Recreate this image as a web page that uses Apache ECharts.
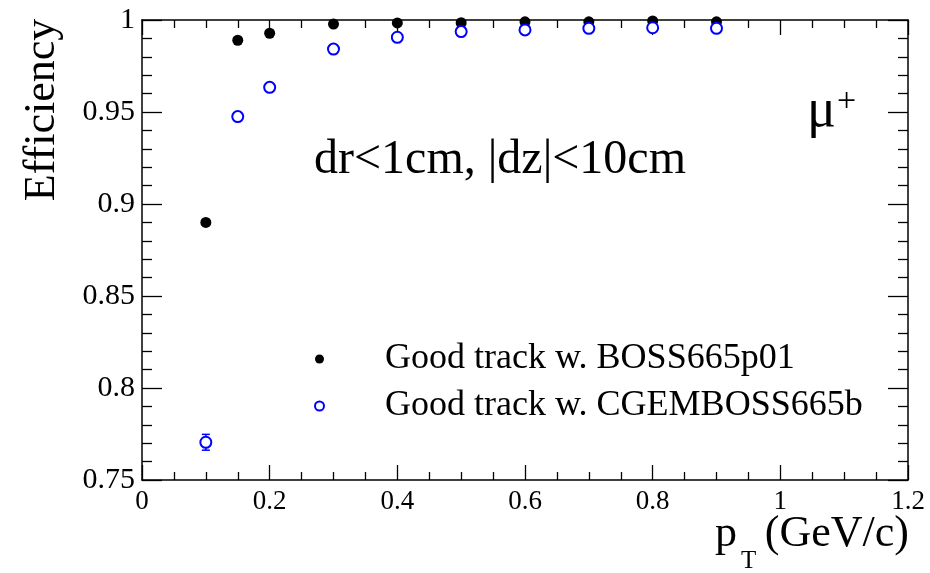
<!DOCTYPE html>
<html>
<head>
<meta charset="utf-8">
<script src="https://cdn.jsdelivr.net/npm/echarts@6/dist/echarts.min.js"></script>
<style>html,body{margin:0;padding:0;background:#fff}#c{width:930px;height:573px}</style>
</head>
<body>
<div id="c"></div>
<script>
// Data
const ptValues = [0.1, 0.15, 0.2, 0.3, 0.4, 0.5, 0.6, 0.7, 0.8, 0.9];
const effBOSS = [0.890, 0.989, 0.9928, 0.9978, 0.9984, 0.9985, 0.999, 0.999, 0.9995, 0.999];
const errBOSS = [0.0015, 0.0008, 0.0006, 0.0004, 0.0003, 0.0003, 0.0003, 0.0003, 0.0003, 0.0003];
const effCGEM = [0.7705, 0.9475, 0.9634, 0.9842, 0.9906, 0.9937, 0.9946, 0.9955, 0.9958, 0.9955];
const errCGEM = [0.0043, 0.0020, 0.0018, 0.0012, 0.0010, 0.0009, 0.0008, 0.0008, 0.0008, 0.0008];
const seriesNames = ['Good track w. BOSS665p01', 'Good track w. CGEMBOSS665b'];
const xTicks = [0, 0.2, 0.4, 0.6, 0.8, 1, 1.2];
const yTicks = [0.75, 0.8, 0.85, 0.9, 0.95, 1];

const FONT = 'Liberation Serif';
const chart = echarts.init(document.getElementById('c'), null, {renderer: 'canvas'});

function pts(xs, ys) { return xs.map((x, i) => [x, ys[i]]); }
function errPts(xs, ys, es) { return xs.map((x, i) => [x, ys[i] - es[i], ys[i] + es[i]]); }

function errRender(color, cap) {
  return function (params, api) {
    const x = api.value(0);
    const lo = api.coord([x, api.value(1)]);
    const hi = api.coord([x, api.value(2)]);
    return {
      type: 'group',
      children: [
        {type: 'line', shape: {x1: lo[0], y1: lo[1], x2: hi[0], y2: hi[1]}, style: {stroke: color, lineWidth: 1.5}},
        {type: 'line', shape: {x1: lo[0] - cap, y1: lo[1], x2: lo[0] + cap, y2: lo[1]}, style: {stroke: color, lineWidth: 1.5}},
        {type: 'line', shape: {x1: hi[0] - cap, y1: hi[1], x2: hi[0] + cap, y2: hi[1]}, style: {stroke: color, lineWidth: 1.5}}
      ]
    };
  };
}

const fmt = v => String(parseFloat(v.toFixed(3)));

const axisLine = {show: true, onZero: false, lineStyle: {color: '#000', width: 1.5}};
const tickStyle = {color: '#000', width: 1.3};

const option = {
  animation: false,
  backgroundColor: '#fff',
  grid: {left: 142, top: 20, right: 22, bottom: 93, containLabel: false},
  xAxis: [
    {
      type: 'value', min: xTicks[0], max: xTicks[xTicks.length - 1], interval: 0.2,
      position: 'bottom',
      axisLine: axisLine,
      axisTick: {show: true, inside: true, length: 15, lineStyle: tickStyle},
      minorTick: {show: true, splitNumber: 4, length: 8, lineStyle: tickStyle},
      splitLine: {show: false}, minorSplitLine: {show: false},
      axisLabel: {show: true, margin: 8, color: '#000', fontFamily: FONT, fontSize: 27, formatter: fmt}
    },
    {
      type: 'value', min: xTicks[0], max: xTicks[xTicks.length - 1], interval: 0.2,
      position: 'top',
      axisLine: axisLine,
      axisTick: {show: true, inside: true, length: 15, lineStyle: tickStyle},
      minorTick: {show: true, splitNumber: 4, length: 8, lineStyle: tickStyle},
      splitLine: {show: false}, axisLabel: {show: false}
    }
  ],
  yAxis: [
    {
      type: 'value', min: yTicks[0], max: yTicks[yTicks.length - 1], interval: 0.05,
      position: 'left',
      axisLine: axisLine,
      axisTick: {show: true, inside: true, length: 20, lineStyle: tickStyle},
      minorTick: {show: true, splitNumber: 5, length: 10, lineStyle: tickStyle},
      splitLine: {show: false}, minorSplitLine: {show: false},
      axisLabel: {show: true, margin: 7, color: '#000', fontFamily: FONT, fontSize: 30, formatter: fmt}
    },
    {
      type: 'value', min: yTicks[0], max: yTicks[yTicks.length - 1], interval: 0.05,
      position: 'right',
      axisLine: axisLine,
      axisTick: {show: true, inside: true, length: 20, lineStyle: tickStyle},
      minorTick: {show: true, splitNumber: 5, length: 10, lineStyle: tickStyle},
      splitLine: {show: false}, axisLabel: {show: false}
    }
  ],
  legend: {
    show: true,
    orient: 'vertical',
    left: 309, top: 336,
    itemGap: 11,
    itemWidth: 9, itemHeight: 9,
    textStyle: {fontFamily: FONT, fontSize: 36, color: '#000', padding: [0, 0, 0, 56]},
    data: [
      {name: seriesNames[0], icon: 'circle', itemStyle: {color: '#000', opacity: 1}},
      {name: seriesNames[1], icon: 'emptyCircle', itemStyle: {borderWidth: 1.2}}
    ]
  },
  series: [
    {
      name: seriesNames[0] + ' err', type: 'custom', xAxisIndex: 0, yAxisIndex: 0,
      renderItem: errRender('#000', 3), data: errPts(ptValues, effBOSS, errBOSS), z: 2
    },
    {
      name: seriesNames[0], type: 'scatter', xAxisIndex: 0, yAxisIndex: 0,
      symbol: 'circle', symbolSize: 11,
      itemStyle: {color: '#000', opacity: 1},
      data: pts(ptValues, effBOSS), z: 3
    },
    {
      name: seriesNames[1] + ' err', type: 'custom', xAxisIndex: 0, yAxisIndex: 0,
      renderItem: errRender('#0000ff', 4), data: errPts(ptValues, effCGEM, errCGEM), z: 4
    },
    {
      name: seriesNames[1], type: 'scatter', xAxisIndex: 0, yAxisIndex: 0,
      symbol: 'emptyCircle', symbolSize: 11,
      itemStyle: {color: '#0000ff', borderColor: '#0000ff', borderWidth: 1.5, opacity: 1},
      data: pts(ptValues, effCGEM), z: 5
    }
  ],
  graphic: [
    {
      type: 'text', x: 42, y: 110, rotation: Math.PI / 2,
      style: {text: 'Efficiency', font: '44px "Liberation Serif"', fill: '#000', textAlign: 'center', textVerticalAlign: 'middle'}
    },
    {
      type: 'text', x: 715, y: 534,
      style: {text: 'p', font: '44px "Liberation Serif"', fill: '#000', textAlign: 'left', textVerticalAlign: 'middle'}
    },
    {
      type: 'text', x: 741, y: 561,
      style: {text: 'T', font: '25px "Liberation Serif"', fill: '#000', textAlign: 'left', textVerticalAlign: 'middle'}
    },
    {
      type: 'text', x: 909, y: 534,
      style: {text: '(GeV/c)', font: '44px "Liberation Serif"', fill: '#000', textAlign: 'right', textVerticalAlign: 'middle'}
    },
    {
      type: 'text', x: 500, y: 160,
      style: {text: 'dr<1cm, |dz|<10cm', font: '48px "Liberation Serif"', fill: '#000', textAlign: 'center', textVerticalAlign: 'middle'}
    },
    {
      type: 'text', x: 807, y: 112,
      style: {text: 'μ', font: '54px "Liberation Serif"', fill: '#000', textAlign: 'left', textVerticalAlign: 'middle'}
    },
    {
      type: 'text', x: 837, y: 102,
      style: {text: '+', font: '34px "Liberation Serif"', fill: '#000', textAlign: 'left', textVerticalAlign: 'middle'}
    }
  ]
};
chart.setOption(option);
</script>
</body>
</html>
